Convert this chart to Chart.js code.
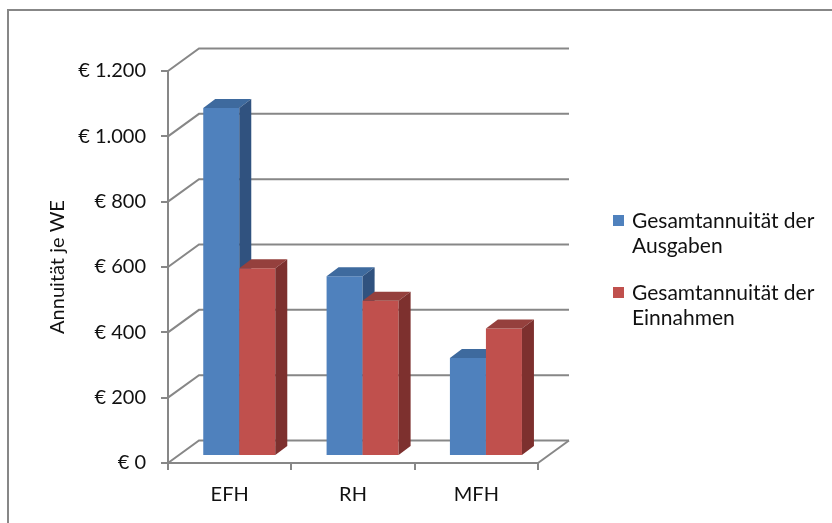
<!DOCTYPE html>
<html>
<head>
<meta charset="utf-8">
<script src="https://cdn.jsdelivr.net/npm/chart.js@4.4.1/dist/chart.umd.min.js"></script>
<style>
  html, body { margin: 0; padding: 0; background: #fff; overflow: hidden; }
  #wrap { position: relative; width: 832px; height: 523px; }
</style>
</head>
<body>
<div id="wrap"><canvas id="c" width="832" height="523"></canvas></div>
<script>
// Annuity per dwelling unit by building type
const categories = ['EFH', 'RH', 'MFH'];
const ausgaben = [1065, 550, 300];
const einnahmen = [575, 475, 390];
const seriesNames = [
  ['Gesamtannuität der', 'Ausgaben'],
  ['Gesamtannuität der', 'Einnahmen']
];
const yTickLabels = ['€ 0', '€ 200', '€ 400', '€ 600', '€ 800', '€ 1.000', '€ 1.200'];
const axisTitle = 'Annuität je WE';

const FONT = 'Lato';
const LINE = '#878787';
const TEXT = '#111';

// oblique projection: wall depth, bar placement and bar depth
const WALL = { dx: 31, dy: -22.5 };
const SHIFT = { dx: 9.6, dy: -7 };
const DEPTH = { dx: 12, dy: -9 };

const faces = [
  { front: '#4F81BD', top: '#3E6A9E', side: '#30527F' },
  { front: '#C0504D', top: '#95403D', side: '#7D302E' }
];

function poly(ctx, pts, color) {
  ctx.beginPath();
  ctx.moveTo(pts[0][0], pts[0][1]);
  for (let i = 1; i < pts.length; i++) ctx.lineTo(pts[i][0], pts[i][1]);
  ctx.closePath();
  ctx.fillStyle = color;
  ctx.fill();
}

const threeD = {
  id: 'threeD',
  beforeDraw(chart) {
    const ctx = chart.ctx;
    ctx.save();
    ctx.strokeStyle = LINE;
    ctx.lineWidth = 2;
    ctx.beginPath();
    ctx.moveTo(8, 523);
    ctx.lineTo(8, 10);
    ctx.lineTo(832, 10);
    ctx.stroke();
    ctx.restore();
  },
  beforeDatasetsDraw(chart) {
    const ctx = chart.ctx;
    const xs = chart.scales.x, ys = chart.scales.y;
    ctx.save();
    // back wall gridlines and side-wall diagonals
    ctx.strokeStyle = LINE;
    ctx.lineWidth = 2;
    ys.ticks.forEach(t => {
      const py = ys.getPixelForValue(t.value);
      ctx.beginPath();
      ctx.moveTo(xs.left, py);
      ctx.lineTo(xs.left + WALL.dx, py + WALL.dy);
      ctx.lineTo(xs.right + WALL.dx, py + WALL.dy);
      ctx.stroke();
    });
    // floor right edge
    const y0 = ys.getPixelForValue(0);
    ctx.beginPath();
    ctx.moveTo(xs.right, y0);
    ctx.lineTo(xs.right + WALL.dx, y0 + WALL.dy);
    ctx.stroke();

    // bars as boxes
    const metas = chart.data.datasets.map((d, i) => chart.getDatasetMeta(i));
    for (let i = 0; i < categories.length; i++) {
      metas.forEach((meta, d) => {
        const el = meta.data[i];
        const p = el.getProps(['x', 'y', 'base', 'width'], true);
        const l = p.x - p.width / 2 + SHIFT.dx;
        const r = p.x + p.width / 2 + SHIFT.dx;
        const t = p.y + SHIFT.dy;
        const b = p.base + SHIFT.dy;
        const f = faces[d];
        poly(ctx, [[l, t], [r, t], [r, b], [l, b]], f.front);
        poly(ctx, [[l, t], [l + DEPTH.dx, t + DEPTH.dy], [r + DEPTH.dx, t + DEPTH.dy], [r, t]], f.top);
        poly(ctx, [[r, t], [r + DEPTH.dx, t + DEPTH.dy], [r + DEPTH.dx, b + DEPTH.dy], [r, b]], f.side);
      });
    }
    ctx.restore();
    return false;
  },
  afterDraw(chart) {
    // legend
    const ctx = chart.ctx;
    ctx.save();
    ctx.font = '21px ' + FONT;
    ctx.textBaseline = 'alphabetic';
    ctx.textAlign = 'left';
    const entries = [{ box: 215, base: 227.7 }, { box: 287, base: 300 }];
    chart.data.datasets.forEach((ds, i) => {
      ctx.fillStyle = ds.backgroundColor;
      ctx.fillRect(613, entries[i].box, 11, 11);
      ctx.fillStyle = TEXT;
      ds.label.forEach((line, k) => ctx.fillText(line, 632, entries[i].base + k * 25.3));
    });
    ctx.restore();
  }
};

new Chart(document.getElementById('c'), {
  type: 'bar',
  data: {
    labels: categories,
    datasets: [
      { label: seriesNames[0], data: ausgaben, backgroundColor: faces[0].front },
      { label: seriesNames[1], data: einnahmen, backgroundColor: faces[1].front }
    ]
  },
  options: {
    responsive: false,
    animation: false,
    devicePixelRatio: 1,
    layout: { padding: { left: 0, top: 71, right: 294, bottom: 0 } },
    datasets: { bar: { categoryPercentage: 0.584, barPercentage: 1 } },
    plugins: { legend: { display: false }, tooltip: { enabled: false } },
    scales: {
      x: {
        afterFit(s) { s.height = 60; },
        grid: { offset: true, drawOnChartArea: false, tickLength: 7, color: LINE, lineWidth: 2 },
        border: { color: LINE, width: 2 },
        ticks: { color: TEXT, font: { family: FONT, size: 20 }, padding: 13 }
      },
      y: {
        min: 0, max: 1200,
        afterFit(s) { s.width = 168; },
        grid: { drawOnChartArea: false, tickLength: 7, color: LINE, lineWidth: 2 },
        border: { color: LINE, width: 2 },
        ticks: {
          stepSize: 200, color: TEXT, padding: 15,
          font: { family: FONT, size: 20 },
          callback: (v, i) => yTickLabels[i]
        },
        title: {
          display: true, text: axisTitle, color: TEXT,
          font: { family: FONT, size: 20 },
          padding: { top: 46, bottom: 0 }
        }
      }
    }
  },
  plugins: [threeD]
});
</script>
</body>
</html>
